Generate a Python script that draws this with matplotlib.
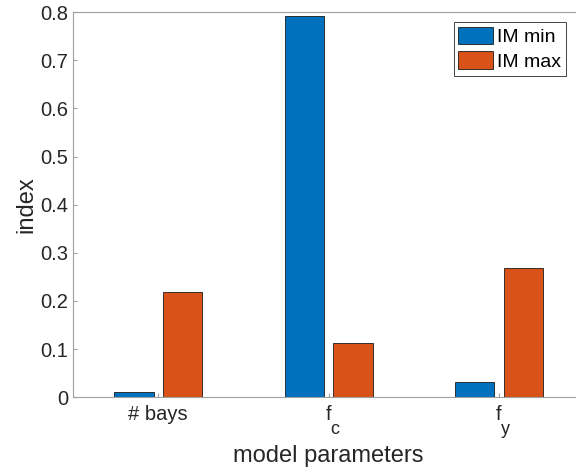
import numpy as np
import matplotlib
matplotlib.use("Agg")
import matplotlib.pyplot as plt

plt.rcParams['font.family'] = ['Liberation Sans', 'DejaVu Sans']

categories = ['# bays', 'f', 'f']
subscripts = ['', 'c', 'y']
im_min = [0.010, 0.792, 0.031]
im_max = [0.219, 0.112, 0.268]

x = np.arange(1, len(categories) + 1)
w = 0.23
off = 0.143

fig = plt.figure(figsize=(5.76, 4.70), dpi=100)
ax = fig.add_axes([0.127, 0.155, 0.887, 0.819])

ax.bar(x - off, im_min, w, color='#0072BD', edgecolor='#1a1a1a', linewidth=0.6, label='IM min')
ax.bar(x + off, im_max, w, color='#D95319', edgecolor='#1a1a1a', linewidth=0.6, label='IM max')

ax.set_xlim(0.5, 3.5)
ax.set_ylim(0, 0.8)
ax.set_xticks(x)
ax.set_xticklabels(categories)
ax.set_yticks(np.arange(0, 0.81, 0.1))
ax.set_yticklabels(['0'] + ['%.1f' % v for v in np.arange(0.1, 0.81, 0.1)])
ax.tick_params(direction='in', labelsize=14.5, colors='#a0a0a0', labelcolor='#262626', length=3)
ax.tick_params(axis='x', pad=6)
for s in ax.spines.values():
    s.set_color('#a0a0a0')

# lowered subscripts under the f tick labels
for xi, sub in zip(x, subscripts):
    if sub:
        ax.annotate(sub, xy=(xi, 0), xycoords=('data', 'axes fraction'),
                    xytext=(1.5, -17.5), textcoords='offset points',
                    fontsize=13, color='#262626', ha='left', va='top')

ax.set_xlabel('model parameters', fontsize=17, color='#262626', labelpad=15)
ax.set_ylabel('index', fontsize=17, color='#262626', labelpad=2)

leg = ax.legend(loc='upper right', bbox_to_anchor=(0.965, 0.974), fontsize=14, fancybox=False,
                framealpha=1, edgecolor='#262626', handlelength=1.8, handleheight=1.0,
                handletextpad=0.2, borderpad=0.25, labelspacing=0.25, borderaxespad=0)
leg.get_frame().set_linewidth(0.6)

fig.savefig('out.png', dpi=100)
